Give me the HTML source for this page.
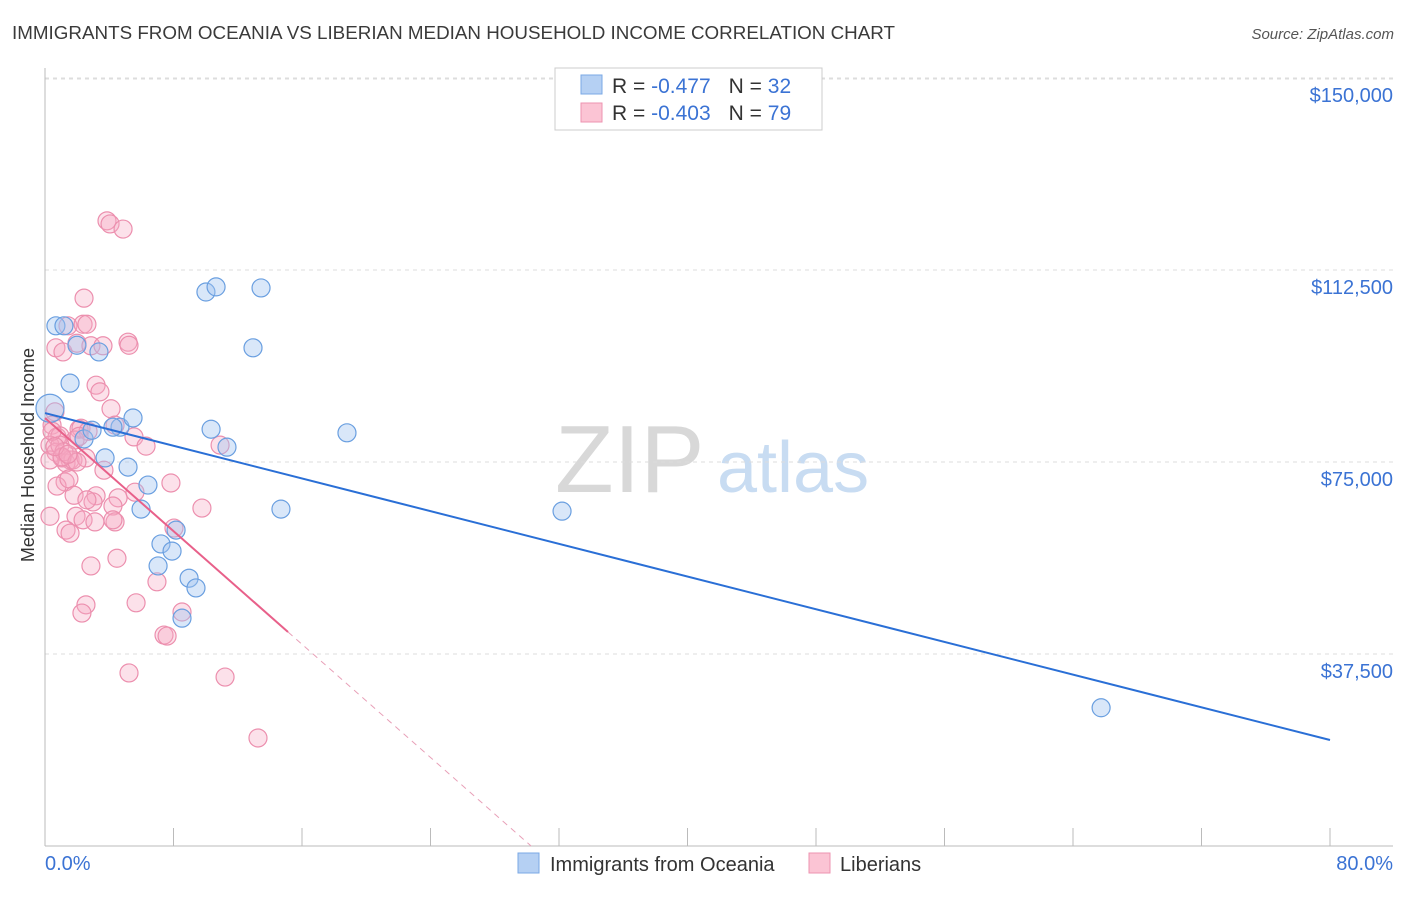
<!DOCTYPE html>
<html><head><meta charset="utf-8"><style>
body{margin:0;background:#fff;font-family:"Liberation Sans",sans-serif;}
svg text{font-family:"Liberation Sans",sans-serif;}
</style></head><body>
<svg id="c" width="1406" height="892" xmlns="http://www.w3.org/2000/svg">
<text x="12" y="39" font-size="18" fill="#3a3a3a" textLength="883" lengthAdjust="spacingAndGlyphs">IMMIGRANTS FROM OCEANIA VS LIBERIAN MEDIAN HOUSEHOLD INCOME CORRELATION CHART</text>
<text x="1394" y="39" font-size="15" fill="#555" font-style="italic" text-anchor="end">Source: ZipAtlas.com</text>
<g>
<text x="555" y="492" font-size="96" font-family="Liberation Serif, serif" fill="#d8d8d8">ZIP</text>
<text x="717" y="492" font-size="72" fill="#c8dcf2">atlas</text>
</g>
<g id="grid"></g>
<g id="axes"></g>
<g id="marks"></g>
<text transform="translate(34,455) rotate(-90)" font-size="18" fill="#333" text-anchor="middle">Median Household Income</text>
<g>
<rect x="555" y="68" width="267" height="62" fill="#fff" stroke="#ccc"/>
<rect x="581" y="75" width="21" height="19" fill="#b5d0f3" stroke="#7aa8e6"/>
<rect x="581" y="103" width="21" height="19" fill="#fbc4d4" stroke="#ee93b0"/>
<text x="612" y="93" font-size="21" fill="#333">R = <tspan fill="#3b73d4"> -0.477</tspan><tspan dx="18">N = </tspan><tspan fill="#3b73d4">32</tspan></text>
<text x="612" y="120" font-size="21" fill="#333">R = <tspan fill="#3b73d4">-0.403</tspan><tspan dx="18">N = </tspan><tspan fill="#3b73d4">79</tspan></text>
</g>
<g>
<rect x="518" y="853" width="21" height="20" fill="#b5d0f3" stroke="#7aa8e6"/>
<text x="550" y="871" font-size="20" fill="#333">Immigrants from Oceania</text>
<rect x="809" y="853" width="21" height="20" fill="#fbc4d4" stroke="#ee93b0"/>
<text x="840" y="871" font-size="20" fill="#333">Liberians</text>
</g>
</svg>
<script>
const yTicks=[37500,75000,112500,150000];
const yTickLabels=["$37,500","$75,000","$112,500","$150,000"];
const xTickLabels=["0.0%","80.0%"];
const blueX=[0.31,0.68,1.18,1.56,1.99,3.36,2.43,3.74,5.17,4.67,5.48,6.41,5.98,7.22,7.04,7.91,8.16,8.97,9.40,8.53,10.02,10.65,13.45,12.95,10.34,11.33,14.69,18.80,32.19,65.75,2.93,4.23];
const blueY=[85500,101600,101600,90400,97800,96500,79500,75800,74000,81800,83600,70500,65800,59000,54700,57600,61700,52300,50400,44500,108200,109200,109000,97300,81400,77900,65800,80700,65400,27000,81200,81800];
const pinkX=[3.86,4.05,4.86,2.43,1.43,2.37,2.61,0.68,1.12,1.99,2.86,5.17,5.23,3.61,3.18,3.42,4.11,0.62,0.44,0.75,0.93,2.12,2.24,2.68,1.87,4.36,5.54,6.29,0.31,0.68,1.06,1.56,1.31,1.74,0.31,3.67,1.25,0.75,1.49,1.81,3.18,2.99,2.61,4.55,5.60,7.84,9.77,4.23,4.36,4.23,1.93,2.37,3.11,0.31,1.31,1.56,8.03,4.48,2.86,6.97,2.55,2.30,5.67,8.53,7.41,7.60,5.23,11.21,13.26,10.90,0.93,2.55,1.18,0.44,1.06,1.99,2.12,0.62,1.43];
const pinkY=[122100,121500,120500,107000,101600,101900,101900,97300,96500,98200,97700,98400,97800,97700,90000,88700,85400,84800,82200,79900,80100,81400,81600,81000,79300,82200,79900,78100,78300,76900,75800,75400,74800,75400,75400,73400,71100,70300,71700,68500,68400,67200,67600,68000,69100,70900,66000,66400,63300,63700,64400,63700,63300,64400,61700,61100,62100,56200,54700,51600,47100,45500,47500,45700,41200,41000,33800,33000,21100,78300,78300,75800,77000,81000,76000,75000,80000,78000,76500];
const blueTrend=[84560,20700];
const pinkTrend=[83600,41800];
const pinkTrendEnd=15.13;
const sx=v=>45+v/80*1285, sy=v=>846-v/37500*192;
const NS="http://www.w3.org/2000/svg";
function mk(t,a,p){const e=document.createElementNS(NS,t);for(const k in a)e.setAttribute(k,a[k]);p.appendChild(e);return e;}
const grid=document.getElementById('grid'),axes=document.getElementById('axes'),marks=document.getElementById('marks');
yTicks.forEach((v,i)=>{
 const l=mk('line',{x1:45,x2:1393,y1:sy(v),y2:sy(v),stroke:'#ddd','stroke-dasharray':'4,4'},grid);
 
 
 const t=mk('text',{x:1393,y:sy(v)+24,'font-size':20,fill:'#3b73d4','text-anchor':'end'},axes);t.textContent=yTickLabels[i];
 
 
});
const gl=mk('line',{x1:45,x2:1393,y1:79,y2:79,stroke:'#ddd','stroke-dasharray':'4,4'},grid);


const ya=mk('line',{x1:45,x2:45,y1:68,y2:846,stroke:'#bbb'},axes);


const xa=mk('line',{x1:45,x2:1393,y1:846,y2:846,stroke:'#bbb'},axes);


for(let i=0;i<=10;i++){const tk=mk('line',{x1:sx(i*8),x2:sx(i*8),y1:828,y2:846,stroke:'#bbb'},axes);
 
 }
const xl0=mk('text',{x:45,y:870,'font-size':20,fill:'#3b73d4'},axes);xl0.textContent=xTickLabels[0];


const xl1=mk('text',{x:1393,y:870,'font-size':20,fill:'#3b73d4','text-anchor':'end'},axes);xl1.textContent=xTickLabels[1];


pinkX.forEach((x,i)=>{const c=mk('circle',{cx:sx(x),cy:sy(pinkY[i]),r:9,fill:'rgba(245,170,195,0.35)',stroke:'#ec8fae','stroke-width':1.2},marks);
 
 });
blueX.forEach((x,i)=>{const c=mk('circle',{cx:sx(x),cy:sy(blueY[i]),r:i==0?14:9,fill:'rgba(160,195,240,0.4)',stroke:'#6a9fe0','stroke-width':1.2},marks);
 
 });
const bt=mk('line',{x1:sx(0),y1:sy(blueTrend[0]),x2:sx(80),y2:sy(blueTrend[1]),stroke:'#2a6fd6','stroke-width':2},marks);


const slope=(pinkTrend[1]-pinkTrend[0])/pinkTrendEnd, zx=-pinkTrend[0]/slope;
const pt=mk('line',{x1:sx(0),y1:sy(pinkTrend[0]),x2:sx(pinkTrendEnd),y2:sy(pinkTrend[1]),stroke:'#e8608a','stroke-width':2},marks);


const pd=mk('line',{x1:sx(pinkTrendEnd),y1:sy(pinkTrend[1]),x2:sx(zx),y2:sy(0),stroke:'#e8a0b8','stroke-width':1,'stroke-dasharray':'6,5'},marks);


</script>
</body></html>
